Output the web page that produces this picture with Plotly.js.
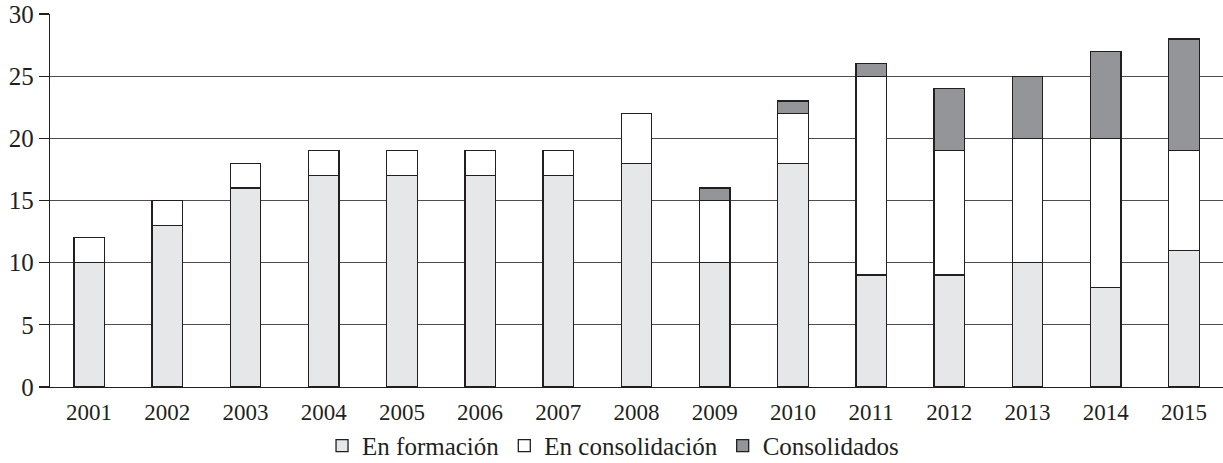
<!DOCTYPE html>
<html>
<head>
<meta charset="utf-8">
<script src="https://cdn.plot.ly/plotly-3.0.1.min.js"></script>
<style>html,body{margin:0;padding:0;background:#fff;}#chart{width:1223px;height:463px;}</style>
</head>
<body>
<div id="chart"></div>
<script>
const years = ["2001","2002","2003","2004","2005","2006","2007","2008","2009","2010","2011","2012","2013","2014","2015"];
const enFormacion = [10,13,16,17,17,17,17,18,10,18,9,9,10,8,11];
const enConsolidacion = [2,2,2,2,2,2,2,4,5,4,16,10,10,12,8];
const consolidados = [0,0,0,0,0,0,0,0,1,1,1,5,5,7,9];
const seriesNames = ["En formación","En consolidación","Consolidados"];
const seriesColors = ["#e6e7e8","#ffffff","#939598"];
const yTicks = [0,5,10,15,20,25,30];

const outline = {color:"#231f20", width:1.3};
const allSeries = [enFormacion, enConsolidacion, consolidados];
const traces = allSeries.map((vals,i)=>({
  type:"bar",
  x: years,
  y: vals.map(v => v === 0 ? null : v),
  name: seriesNames[i],
  width: 0.39,
  marker:{color:seriesColors[i], line:outline},
  hoverinfo:"skip"
}));

const font = "Liberation Serif, DejaVu Serif, serif";
const layout = {
  width:1223, height:463,
  barmode:"stack",
  paper_bgcolor:"#fff", plot_bgcolor:"#fff",
  margin:{l:50, r:0, t:14, b:76, pad:0, autoexpand:false},
  font:{family:font, size:22, color:"#231f20"},
  showlegend:true,
  legend:{orientation:"h", x:0.48, xanchor:"center", y:-0.158, yanchor:"middle",
          font:{family:font, size:25, color:"#231f20"}, traceorder:"normal",
          bgcolor:"rgba(0,0,0,0)"},
  xaxis:{type:"category", range:[-0.5,14.5], showgrid:false, zeroline:false,
         showline:true, linecolor:"#231f20", linewidth:1.3,
         ticks:"", tickfont:{family:font, size:23, color:"#231f20"},
         ticklabelstandoff:4, fixedrange:true, automargin:false},
  yaxis:{range:[0,30], tickvals:yTicks, ticktext:yTicks.map(String),
         showgrid:true, gridcolor:"#4d4d4f", gridwidth:1.2, zeroline:false,
         showline:true, linecolor:"#231f20", linewidth:1.3,
         ticks:"outside", ticklen:10, tickcolor:"#231f20", tickwidth:1.3,
         tickfont:{family:font, size:25, color:"#231f20"},
         ticklabelstandoff:0, fixedrange:true, automargin:false}
};
Plotly.newPlot("chart", traces, layout, {staticPlot:true, displayModeBar:false});
</script>
</body>
</html>
